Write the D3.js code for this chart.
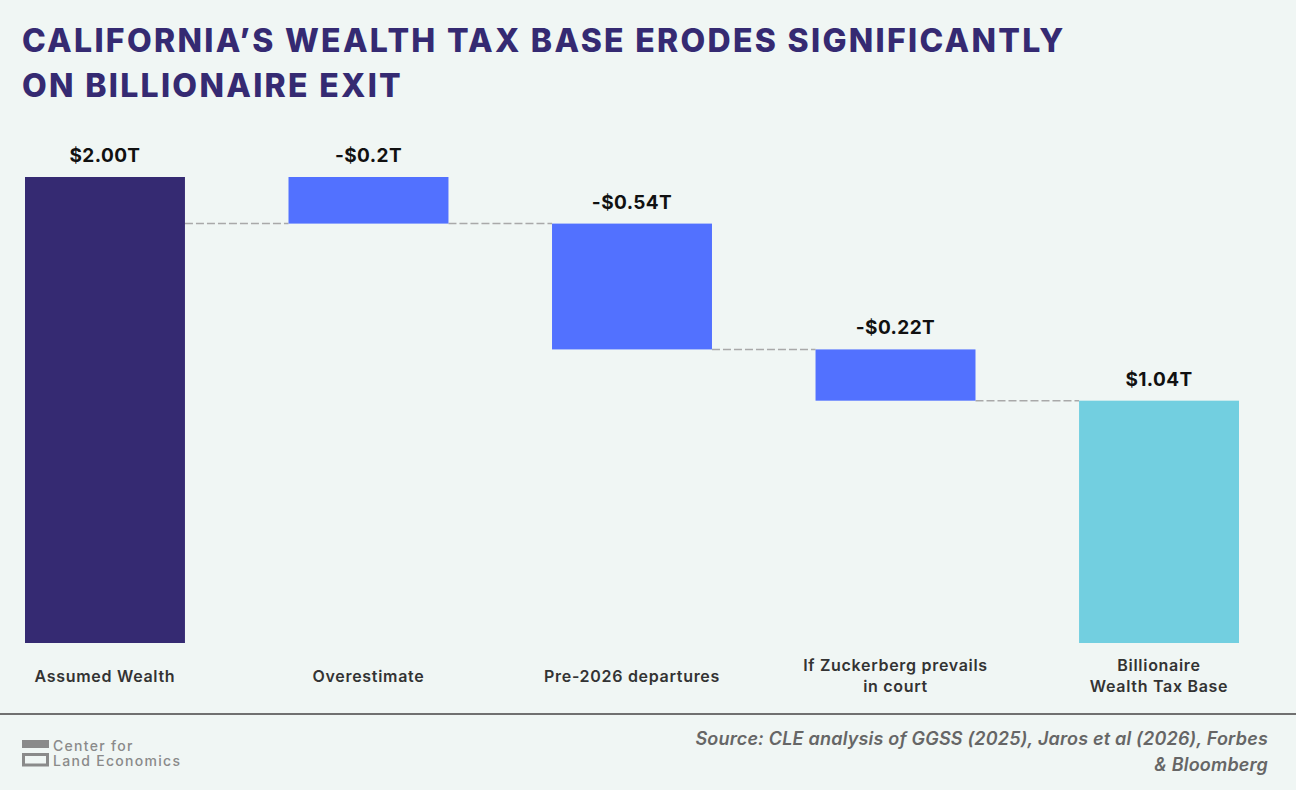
<!DOCTYPE html>
<html>
<head>
<meta charset="utf-8">
<script src="https://cdn.jsdelivr.net/npm/d3@7"></script>
<style>
  html, body { margin: 0; padding: 0; background: #f0f6f4; }
  svg { display: block; }
</style>
</head>
<body>
<svg id="chart" width="1296" height="790"></svg>
<script>
// categories and values (trillions of dollars)
var categories = ["Assumed Wealth", "Overestimate", "Pre-2026 departures", "If Zuckerberg prevails\nin court", "Billionaire\nWealth Tax Base"];
var deltas = [2.00, -0.20, -0.54, -0.22, 1.04];
var kinds = ["total", "drop", "drop", "drop", "total"];
var valueLabels = ["$2.00T", "-$0.2T", "-$0.54T", "-$0.22T", "$1.04T"];

var colors = { total0: "#352a72", drop: "#5271ff", total1: "#72cfe0" };

var W = 1296, H = 790;
var svg = d3.select("#chart").attr("width", W).attr("height", H);
svg.append("rect").attr("width", W).attr("height", H).attr("fill", "#f0f6f4");

// title
var title = svg.append("text")
  .attr("font-family", "Inter, 'DejaVu Sans', sans-serif")
  .attr("font-weight", 800)
  .attr("font-size", 32)
  .attr("letter-spacing", 2.3)
  .attr("fill", "#352a72");
title.append("tspan").attr("x", 22).attr("y", 52).text("CALIFORNIA\u2019S WEALTH TAX BASE ERODES SIGNIFICANTLY");
title.append("tspan").attr("x", 22).attr("y", 97).text("ON BILLIONAIRE EXIT");

// build waterfall rows
var running = 0;
var rows = categories.map(function(c, i) {
  var start, end;
  if (kinds[i] === "total") { start = 0; end = deltas[i]; running = deltas[i]; }
  else { start = running; end = running + deltas[i]; running = end; }
  return { cat: c, start: start, end: end, label: valueLabels[i], i: i };
});

var x = d3.scaleBand().domain(categories).range([25, 1239]).paddingInner(0.393).paddingOuter(0);
var y = d3.scaleLinear().domain([0, 2]).range([643, 177]);

function fillFor(d) {
  if (kinds[d.i] === "drop") return colors.drop;
  return d.i === 0 ? colors.total0 : colors.total1;
}

var g = svg.append("g");

// connectors - after a total bar the line sits at the next bar's end
var links = rows.slice(0, -1).map(function(d, i) {
  var b = rows[i + 1];
  return { a: d, b: b, level: kinds[d.i] === "total" ? b.end : d.end };
});
g.selectAll("line.link").data(links).enter().append("line")
  .attr("class", "link")
  .attr("x1", function(d) { return x(d.a.cat) + x.bandwidth(); })
  .attr("x2", function(d) { return x(d.b.cat); })
  .attr("y1", function(d) { return y(d.level); })
  .attr("y2", function(d) { return y(d.level); })
  .attr("stroke", "#a9a9a9")
  .attr("stroke-width", 1.5)
  .attr("stroke-dasharray", "8,3");

// bars
g.selectAll("rect.bar").data(rows).enter().append("rect")
  .attr("class", "bar")
  .attr("x", function(d) { return x(d.cat); })
  .attr("width", x.bandwidth())
  .attr("y", function(d) { return y(Math.max(d.start, d.end)); })
  .attr("height", function(d) { return Math.abs(y(d.start) - y(d.end)); })
  .attr("fill", fillFor);

// value labels
g.selectAll("text.val").data(rows).enter().append("text")
  .attr("class", "val")
  .attr("x", function(d) { return x(d.cat) + x.bandwidth() / 2; })
  .attr("y", function(d) { return y(Math.max(d.start, d.end)) - 15; })
  .attr("text-anchor", "middle")
  .attr("font-family", "Inter, 'DejaVu Sans', sans-serif")
  .attr("font-weight", 700)
  .attr("font-size", 19)
  .attr("letter-spacing", 0.4)
  .attr("fill", "#111")
  .text(function(d) { return d.label; });

// category axis labels
var xAxis = d3.axisBottom(x).tickSize(0).tickFormat("");
var ax = svg.append("g").attr("transform", "translate(0,643)").call(xAxis);
ax.select(".domain").remove();
ax.selectAll(".tick").each(function(c) {
  var lines = c.split("\n");
  var t = d3.select(this).append("text")
    .attr("text-anchor", "middle")
    .attr("font-family", "Inter, 'DejaVu Sans', sans-serif")
    .attr("font-weight", 600)
    .attr("font-size", 16)
    .attr("letter-spacing", 0.7)
    .attr("fill", "#333");
  var y0 = lines.length === 1 ? 39 : 28;
  lines.forEach(function(l, k) {
    t.append("tspan").attr("x", 0).attr("y", y0 + k * 21).text(l);
  });
});

// separator
svg.append("line").attr("x1", 0).attr("x2", W).attr("y1", 714).attr("y2", 714)
  .attr("stroke", "#707070").attr("stroke-width", 2);

// logo
svg.append("rect").attr("x", 22).attr("y", 740).attr("width", 27).attr("height", 8).attr("fill", "#8a8a8a");
svg.append("rect").attr("x", 23.5).attr("y", 754.5).attr("width", 24).attr("height", 10.5)
  .attr("fill", "none").attr("stroke", "#8a8a8a").attr("stroke-width", 3);
svg.append("text").attr("x", 53).attr("y", 751)
  .attr("font-family", "Inter, 'DejaVu Sans', sans-serif")
  .attr("font-weight", 500).attr("font-size", 14).attr("letter-spacing", 1.3)
  .attr("fill", "#8a8a8a").text("Center for");
svg.append("text").attr("x", 53).attr("y", 766)
  .attr("font-family", "Inter, 'DejaVu Sans', sans-serif")
  .attr("font-weight", 500).attr("font-size", 14).attr("letter-spacing", 1.3)
  .attr("fill", "#8a8a8a").text("Land Economics");

// source
var src = svg.append("text")
  .attr("text-anchor", "end")
  .attr("font-family", "Inter, 'DejaVu Sans', sans-serif")
  .attr("font-style", "italic")
  .attr("font-weight", 600)
  .attr("font-size", 18)
  .attr("letter-spacing", 0.2)
  .attr("fill", "#666");
src.append("tspan").attr("x", 1268).attr("y", 745).text("Source: CLE analysis of GGSS (2025), Jaros et al (2026), Forbes");
src.append("tspan").attr("x", 1268).attr("y", 771).text("& Bloomberg");
</script>
</body>
</html>
